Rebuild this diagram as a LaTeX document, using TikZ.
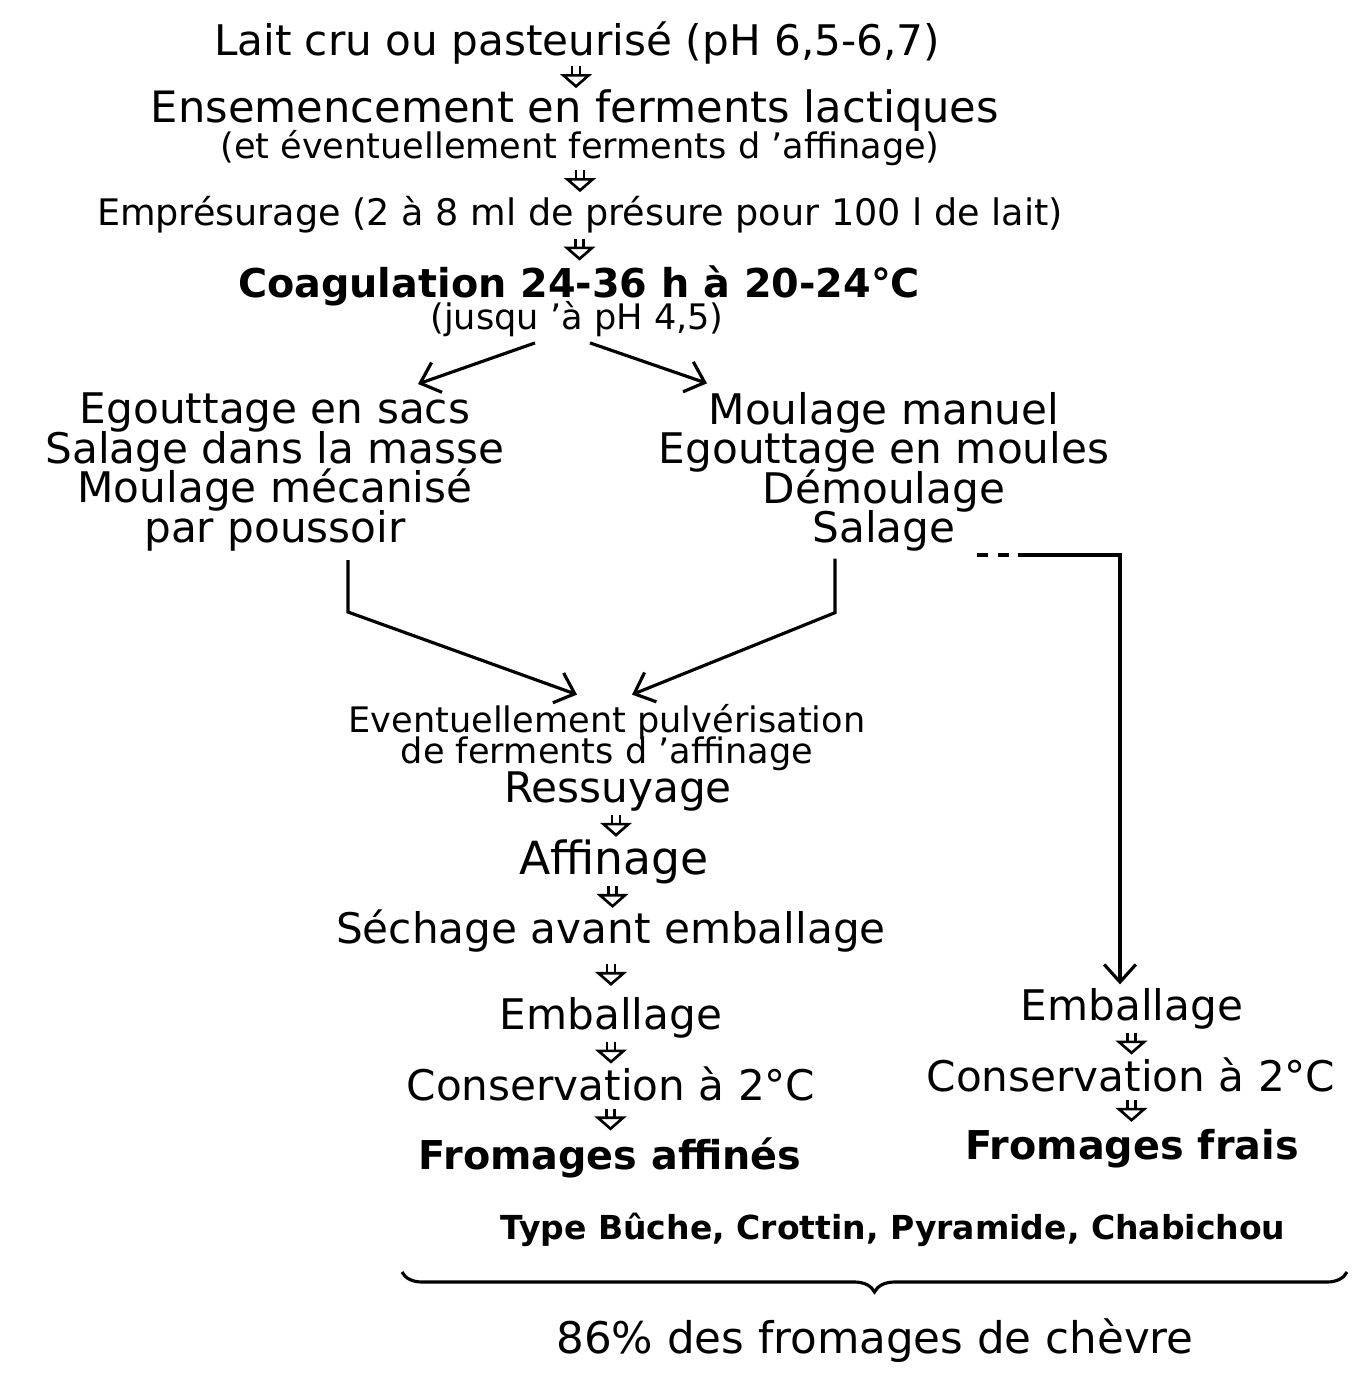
\documentclass[tikz,border=0pt]{standalone}
\usepackage{fontspec}
\setmainfont{DejaVu Sans}
\usetikzlibrary{arrows.meta,calc,decorations.pathreplacing}
\newcommand{\serre}{\lineskiplimit=-20pt\relax}

\begin{document}
\begin{tikzpicture}[%
  etape/.style={font={\fontsize{12}{11.2}\selectfont\serre}, align=center, inner sep=1pt},%
  detail/.style={font={\fontsize{10}{8.8}\selectfont\serre}, align=center, inner sep=1pt},%
  titre/.style={font=\bfseries\fontsize{11.3}{13}\selectfont, inner sep=1pt},%
  lien/.style={line width=0.9pt, -{Straight Barb[length=5pt, width=9pt]}},%
  trait/.style={line width=0.9pt},%
  fleche/.style={double, double distance=1.6pt, line width=0.75pt,%
    -{Triangle[open, length=4pt, width=9pt]},%
    to path={($(\tikztostart.south)!0.5!(\tikztotarget.north)$) ++(0,0.11) -- ++(0,-0.22)}}%
]%
\useasboundingbox (0,0) rectangle (13.72,-13.74);%
% tronc commun
\node[etape] (lait) at (5.77, -0.43) {Lait cru ou pasteurisé (pH 6,5-6,7)};%
\node[etape, font=\fontsize{12.3}{14}\selectfont] (ensem) at (5.75, -1.11) {Ensemencement en ferments lactiques};%
\node[detail] (ensemb) at (5.80, -1.48) {(et éventuellement ferments d 'affinage)};%
\node[etape, font=\fontsize{10.4}{12}\selectfont] (presure) at (5.80, -2.15) {Emprésurage (2 à 8 ml de présure pour 100 l de lait)};%
\node[titre] (coag) at (5.79, -2.86) {Coagulation 24-36 h à 20-24°C};%
\node[detail] (coagb) at (5.77, -3.19) {(jusqu 'à pH 4,5)};%
\draw[fleche] (lait) to (ensem);%
\draw[fleche] (ensemb) to (presure);%
\draw[fleche] (presure) to (coag);%
% deux branches
\node[etape] (gauche) at (2.75, -4.72) {Egouttage en sacs\\Salage dans la masse\\Moulage mécanisé\\par poussoir};%
\node[etape] (droite) at (8.84, -4.72) {Moulage manuel\\Egouttage en moules\\Démoulage\\Salage};%
\draw[lien] ([xshift=-0.42cm, yshift=-0.02cm]coagb.south) -- ([xshift=1.43cm, yshift=0.05cm]gauche.north);%
\draw[lien] ([xshift=0.13cm, yshift=-0.02cm]coagb.south) -- ([xshift=-1.77cm, yshift=0.05cm]droite.north);%
% fromages affines
\node[detail] (pulv) at (6.07, -7.38) {Eventuellement pulvérisation\\de ferments d 'affinage};%
\node[etape] (ressuy) at (6.18, -7.92) {Ressuyage};%
\node[etape, font=\fontsize{13}{15}\selectfont] (affin) at (6.14, -8.62) {Affinage};%
\node[etape] (sechage) at (6.11, -9.31) {Séchage avant emballage};%
\node[etape] (emb1) at (6.11, -10.18) {Emballage};%
\node[etape] (cons1) at (6.11, -10.84) {Conservation à 2°C};%
\node[titre] (fromaff) at (6.10, -11.58) {Fromages affinés};%
\draw[lien] ([xshift=0.73cm, yshift=-0.05cm]gauche.south) -- ++(0, -0.52) -- ([xshift=-0.3cm, yshift=0.06cm]pulv.north);%
\draw[lien] ([xshift=-0.49cm, yshift=-0.03cm]droite.south) -- ++(0, -0.54) -- ([xshift=0.25cm, yshift=0.06cm]pulv.north);%
\draw[fleche] (ressuy) to (affin);%
\draw[fleche] (affin) to (sechage);%
\draw[fleche] (sechage) to (emb1);%
\draw[fleche] (emb1) to (cons1);%
\draw[fleche] (cons1) to (fromaff);%
% fromages frais
\node[etape] (emb2) at (11.32, -10.09) {Emballage};%
\node[etape] (cons2) at (11.31, -10.75) {Conservation à 2°C};%
\node[titre] (fromfrais) at (11.32, -11.49) {Fromages frais};%
\coordinate (tiretdebut) at (9.77, -5.55);%
\coordinate (tiretfin) at (10.18, -5.55);%
\draw[trait, dashed] (tiretdebut) -- (tiretfin);%
\draw[lien] (tiretfin) -| ([xshift=-0.12cm]emb2.north);%
\draw[fleche] (emb2) to (cons2);%
\draw[fleche] (cons2) to (fromfrais);%
% bas
\node[titre, font=\bfseries\fontsize{9.4}{11}\selectfont] (types) at (8.93, -12.30) {Type Bûche, Crottin, Pyramide, Chabichou};%
\draw[trait, decorate, decoration={brace, mirror, amplitude=0.2cm}] (4.02, -12.72) -- (13.47, -12.72);%
\node[etape, font=\fontsize{12.4}{14}\selectfont] (total) at (8.75, -13.41) {86\% des fromages de chèvre};%
\end{tikzpicture}
\end{document}
